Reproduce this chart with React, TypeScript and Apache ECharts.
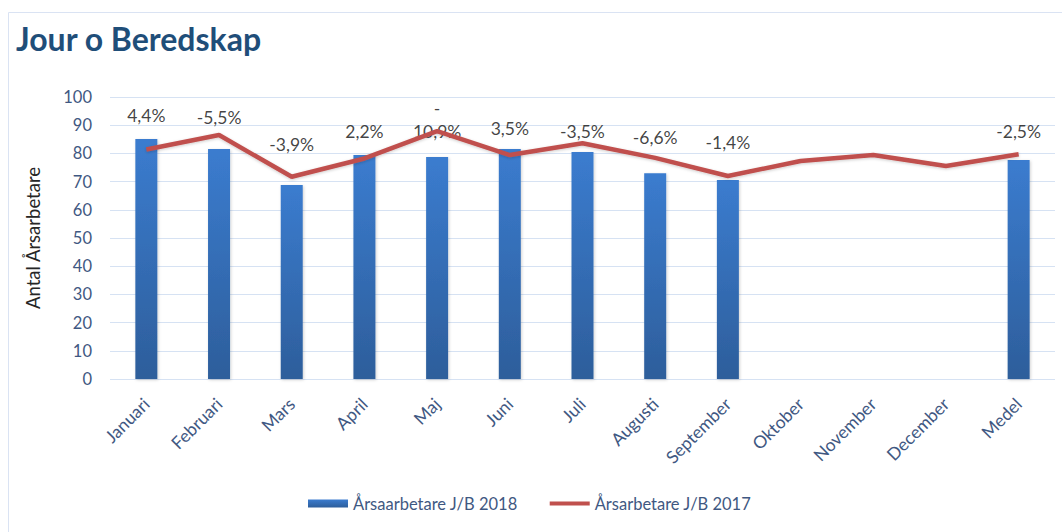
import React, { useEffect, useRef } from "react";
import * as echarts from "echarts";

const categories = ["Januari", "Februari", "Mars", "April", "Maj", "Juni", "Juli", "Augusti", "September", "Oktober", "November", "December", "Medel"];
const values2018: (number | null)[] = [85.1, 81.6, 68.8, 79.4, 78.7, 81.6, 80.5, 73.0, 70.6, null, null, null, 77.7];
const values2017: number[] = [81.4, 86.5, 71.7, 78.2, 87.9, 79.4, 83.6, 78.4, 72.0, 77.3, 79.4, 75.5, 79.7];
const changeLabels: string[] = ["4,4%", "-5,5%", "-3,9%", "2,2%", "-\n10,9%", "3,5%", "-3,5%", "-6,6%", "-1,4%", "", "", "", "-2,5%"];
const labelLevels: (number | null)[] = [93.3, 92.9, 83.0, 87.6, 91.8, 89.0, 87.9, 85.5, 83.7, null, null, null, 87.9];
const yTicks = { min: 0, max: 100, interval: 10 };

const FONT = "Lato, 'Open Sans', sans-serif";
const AXIS_COLOR = "#3F5882";

export default function App() {
  const ref = useRef<HTMLDivElement>(null);
  useEffect(() => {
    const chart = echarts.init(ref.current!, undefined, { renderer: "svg" });
    chart.setOption({
      animation: false,
      backgroundColor: "#ffffff",
      textStyle: { fontFamily: FONT },
      graphic: [
        { type: "rect", shape: { x: 8.5, y: 12.5, width: 1100, height: 600 }, style: { fill: "none", stroke: "#DAE3F3", lineWidth: 1 } },
      ],
      title: {
        text: "Jour o Beredskap",
        left: 11,
        top: 17,
        textStyle: { fontFamily: FONT, fontWeight: "bold", fontSize: 32, color: "#1F4E79" },
      },
      grid: { left: 110, right: 7, top: 97, bottom: 153, containLabel: false },
      legend: {
        bottom: 15,
        left: 303,
        itemGap: 32,
        itemWidth: 40,
        itemHeight: 8,
        textStyle: { fontFamily: FONT, fontSize: 16.5, color: AXIS_COLOR },
        data: [
          { name: "Årsaarbetare J/B 2018", icon: "rect" },
          { name: "Årsarbetare J/B 2017", icon: "path://M0,0 L0.01,0 L0.01,0.01 Z M0,2 L40,2 L40,6 L0,6 Z M0,8 L0.01,8 L0.01,7.99 Z" },
        ],
      },
      xAxis: {
        type: "category",
        data: categories,
        axisLine: { show: false },
        axisTick: { show: false },
        axisLabel: { rotate: 45, fontFamily: FONT, fontSize: 17.5, color: AXIS_COLOR, margin: 22 },
      },
      yAxis: {
        type: "value",
        min: yTicks.min,
        max: yTicks.max,
        interval: yTicks.interval,
        name: "Antal Årsarbetare",
        nameLocation: "middle",
        nameGap: 68,
        nameRotate: 90,
        nameTextStyle: { fontFamily: FONT, fontSize: 18.5, color: "#262626" },
        axisLine: { show: false },
        axisTick: { show: false },
        axisLabel: { fontFamily: FONT, fontSize: 16.5, color: AXIS_COLOR, margin: 18 },
        splitLine: { lineStyle: { color: "#D6E2F3", width: 1 } },
      },
      series: [
        {
          name: "Årsaarbetare J/B 2018",
          type: "bar",
          data: values2018,
          barWidth: 22,
          itemStyle: {
            color: new echarts.graphic.LinearGradient(0, 0, 0, 1, [
              { offset: 0, color: "#3B7CCF" },
              { offset: 1, color: "#2D5E9B" },
            ]),
            shadowColor: "rgba(0,0,0,0.18)",
            shadowBlur: 3,
            shadowOffsetX: 1,
            shadowOffsetY: 1,
          },
        },
        {
          name: "Årsarbetare J/B 2017",
          type: "line",
          data: values2017,
          symbol: "none",
          lineStyle: { color: "#C0504D", width: 4.5, shadowColor: "rgba(0,0,0,0.2)", shadowBlur: 3, shadowOffsetY: 1 },
          itemStyle: { color: "#C0504D" },
        },
        {
          name: "labels",
          type: "scatter",
          data: labelLevels,
          symbolSize: 1,
          itemStyle: { color: "rgba(0,0,0,0)" },
          silent: true,
          label: {
            show: true,
            position: "inside",
            fontFamily: FONT,
            fontSize: 17.5,
            color: "#111111",
            lineHeight: 23,
            formatter: (p: any) => changeLabels[p.dataIndex],
          },
        },
      ],
    });
    return () => chart.dispose();
  }, []);
  return <div ref={ref} style={{ width: 1062, height: 532, position: "absolute", left: 0, top: 0 }} />;
}
